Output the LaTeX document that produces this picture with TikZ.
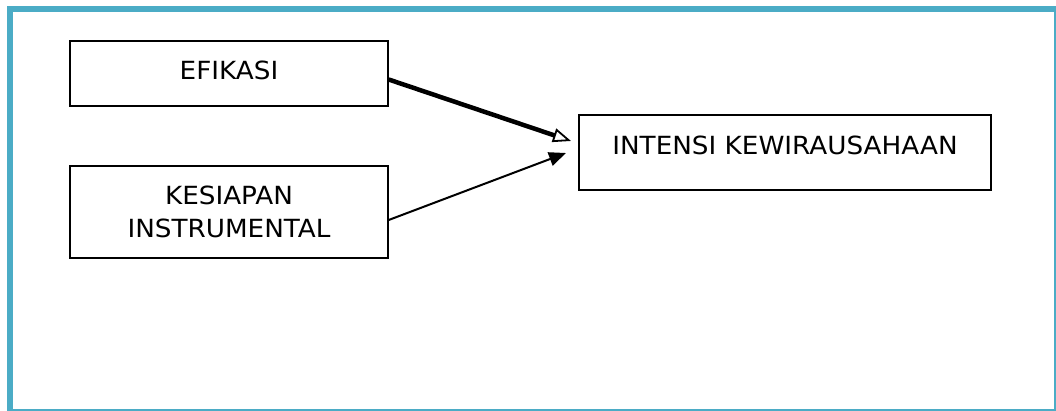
\documentclass[tikz,border=0pt]{standalone}
\usepackage{fontspec}
\setmainfont{DejaVu Sans}
\usetikzlibrary{arrows.meta}
\definecolor{frame}{HTML}{4BACC6}
\newcommand{\tx}[1]{\scalebox{1.05}[1]{#1}}
\begin{document}
\begin{tikzpicture}[x=1pt,y=-1pt,
  boxnode/.style={draw=black,line width=1.4pt,fill=white,inner sep=0pt,align=center,font=\fontsize{25}{39.5}\selectfont},
  thickarrow/.style={line width=4.5pt,-{Triangle[open,length=18pt,width=14pt,line width=1.8pt]}},
  thinarrow/.style={line width=2pt,-{Triangle[length=17pt,width=14pt]}}]
\useasboundingbox (0,0) rectangle (1056,411);
\fill[white] (0,0) rectangle (1056,411);
% frame
\draw[frame,line width=2pt] (10,9) -- (1055,9) -- (1055,410) -- (10,410) -- cycle;
\draw[frame,line width=6pt] (10,411) -- (10,9) -- (1056,9);
% boxes
\node[boxnode,minimum width=318pt,minimum height=65pt] (ef) at (229,73.5) {\raisebox{6pt}{\tx{EFIKASI}}};
\node[boxnode,minimum width=318pt,minimum height=92pt] (ks) at (229,212) {\raisebox{-6pt}{\tx{KESIAPAN}}\\\tx{INSTRUMENTAL}};
\node[boxnode,minimum width=412pt,minimum height=75pt] (in) at (785,152.5) {\raisebox{14pt}{\tx{INTENSI KEWIRAUSAHAAN}}};
\coordinate (t1) at (571,141);
\coordinate (t2) at (566,153);
\draw[thickarrow] ([yshift=-6pt]ef.east) -- (t1);
\draw[thinarrow] ([yshift=-8pt]ks.east) -- (t2);
\end{tikzpicture}
\end{document}
